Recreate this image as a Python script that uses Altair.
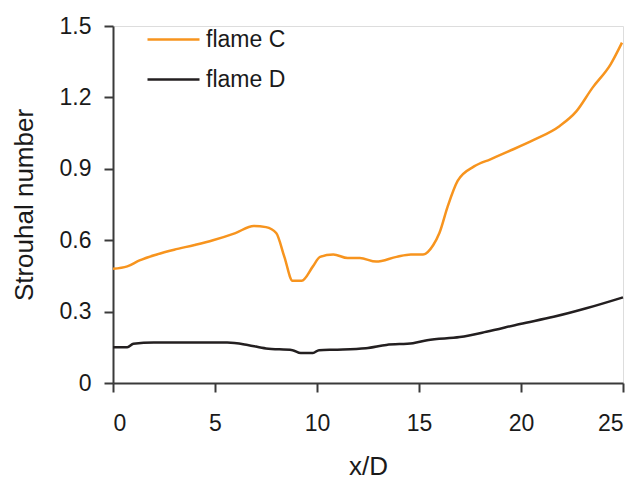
import altair as alt
import pandas as pd

# flame C (orange)
xc = [0, 0.7, 1.3, 2.15, 3.0, 4.0, 4.9, 6.0, 6.9, 7.5, 8.0, 8.4, 8.8, 9.25, 9.8, 10.15, 10.8, 11.5, 12.1, 12.9, 13.9, 14.6, 15.2, 15.7, 16.0, 16.4, 16.9, 17.7, 18.5, 19.3, 20.6, 21.9, 22.7, 23.5, 24.4, 24.95]
yc = [0.48, 0.49, 0.515, 0.54, 0.56, 0.58, 0.60, 0.63, 0.66, 0.655, 0.63, 0.53, 0.43, 0.43, 0.49, 0.53, 0.54, 0.525, 0.525, 0.51, 0.53, 0.54, 0.54, 0.58, 0.63, 0.74, 0.85, 0.91, 0.94, 0.97, 1.02, 1.08, 1.14, 1.24, 1.34, 1.43]

# flame D (black)
xd = [0, 0.7, 1.0, 2.0, 3.5, 5.6, 6.6, 7.5, 8.8, 9.2, 9.8, 10.1, 11.0, 12.4, 13.4, 14.7, 15.4, 17.0, 18.3, 19.95, 21.6, 23.2, 25.0]
yd = [0.15, 0.15, 0.165, 0.17, 0.17, 0.17, 0.16, 0.145, 0.138, 0.126, 0.126, 0.138, 0.14, 0.146, 0.16, 0.167, 0.18, 0.193, 0.215, 0.248, 0.278, 0.314, 0.36]

series = ["flame C", "flame D"]
colors = ["#F7941E", "#231F20"]

df = pd.concat([
    pd.DataFrame({"x": xc, "y": yc, "s": series[0], "o": range(len(xc))}),
    pd.DataFrame({"x": xd, "y": yd, "s": series[1], "o": range(len(xd))}),
])

FONT = "Liberation Sans"
TXT = "#1a1a1a"
AX = "#3a3a3a"

chart = alt.Chart(df).mark_line(strokeWidth=2.5, interpolate="monotone").encode(
    x=alt.X("x:Q", scale=alt.Scale(domain=[0, 25], nice=False, zero=False),
            axis=alt.Axis(title="x/D", values=[0, 5, 10, 15, 20, 25], grid=False,
                          domain=True, domainColor=AX, domainWidth=2,
                          tickColor=AX, tickWidth=2, tickSize=9,
                          labelFontSize=23, labelColor=TXT, labelPadding=20,
                          titleFontSize=26, titleFontWeight="normal", titleColor=TXT,
                          titlePadding=18, labelFont=FONT, titleFont=FONT)),
    y=alt.Y("y:Q", scale=alt.Scale(domain=[0, 1.5], nice=False),
            axis=alt.Axis(title="Strouhal number", values=[0, 0.3, 0.6, 0.9, 1.2, 1.5], grid=False,
                          format="~g",
                          domain=True, domainColor=AX, domainWidth=2,
                          tickColor=AX, tickWidth=2, tickSize=9,
                          labelFontSize=23, labelColor=TXT, labelPadding=13,
                          titleFontSize=26, titleFontWeight="normal", titleColor=TXT,
                          titlePadding=22, labelFont=FONT, titleFont=FONT)),
    color=alt.Color("s:N", scale=alt.Scale(domain=series, range=colors),
                    legend=alt.Legend(title=None, orient="none", legendX=33, legendY=-14,
                                      symbolType="stroke", symbolSize=2704, symbolStrokeWidth=2.5,
                                      labelFontSize=23, labelFont=FONT, labelColor=TXT,
                                      rowPadding=-7, padding=0, labelOffset=5)),
    order="o:Q",
).properties(
    width=510, height=357,
    autosize=alt.AutoSizeParams(type="none"),
    padding={"left": 113, "top": 26, "right": 11, "bottom": 98},
).configure_view(stroke=None).configure(background="white")

chart.save("out.html", embed_options={"renderer": "svg", "actions": False})
